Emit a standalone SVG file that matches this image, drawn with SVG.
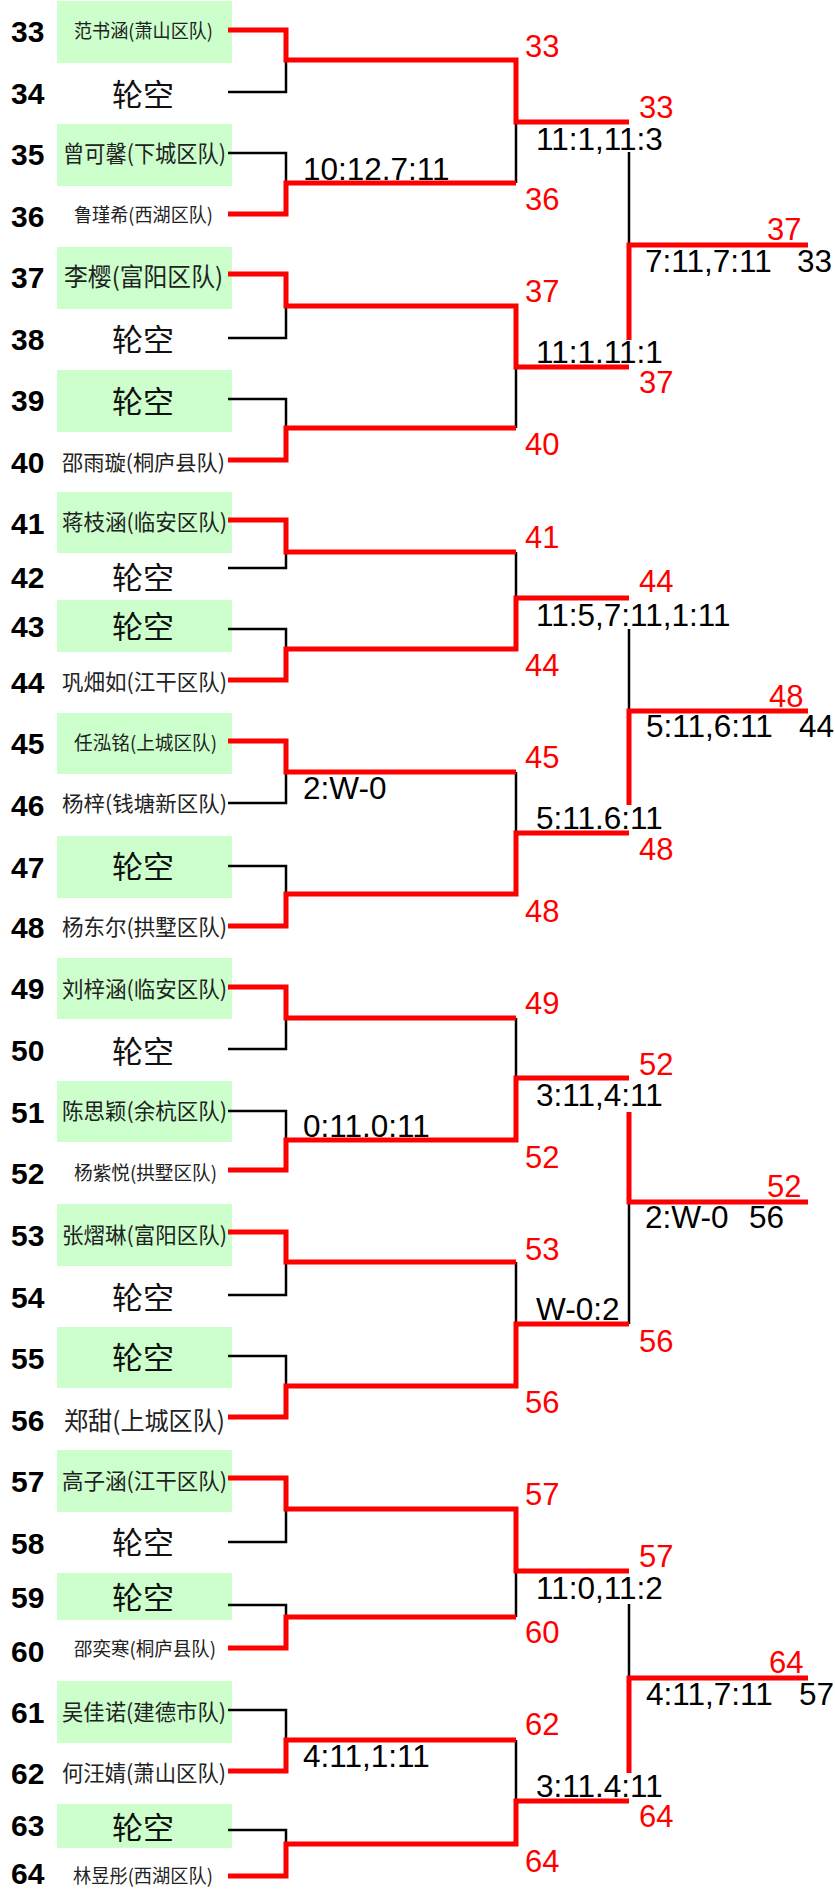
<svg xmlns="http://www.w3.org/2000/svg" width="835" height="1889" viewBox="0 0 835 1889">
<style>
.bg{fill:#fff}
.box{fill:#CCFFCC}
.num{font-family:"Liberation Sans",Arial,sans-serif;font-weight:bold;font-size:30px;fill:#000}
.nm{font-family:"Noto Sans CJK SC","Liberation Sans",sans-serif;fill:#222;text-anchor:middle}
.bye{font-family:"Noto Sans CJK SC","Liberation Sans",sans-serif;font-size:31px;fill:#111;text-anchor:middle}
.sc{font-family:"Liberation Sans",Arial,sans-serif;font-size:31.5px;fill:#000}
.rn{font-family:"Liberation Sans",Arial,sans-serif;font-size:31px;fill:#ff0000}
.bk{fill:none;stroke:#000;stroke-width:2.5}
.rd{fill:none;stroke:#ff0000;stroke-width:5;stroke-linejoin:miter}
</style>
<rect class="bg" x="0" y="0" width="835" height="1889"/>

<g id="boxes">
<rect class="box" x="57" y="1" width="175" height="62"/>
<rect class="box" x="57" y="124" width="175" height="62"/>
<rect class="box" x="57" y="247" width="175" height="62"/>
<rect class="box" x="57" y="370" width="175" height="62"/>
<rect class="box" x="57" y="492" width="175" height="61"/>
<rect class="box" x="57" y="600" width="175" height="52"/>
<rect class="box" x="57" y="713" width="175" height="61"/>
<rect class="box" x="57" y="836" width="175" height="62"/>
<rect class="box" x="57" y="958" width="175" height="61"/>
<rect class="box" x="57" y="1081" width="175" height="61"/>
<rect class="box" x="57" y="1204" width="175" height="62"/>
<rect class="box" x="57" y="1327" width="175" height="61"/>
<rect class="box" x="57" y="1450" width="175" height="62"/>
<rect class="box" x="57" y="1573" width="175" height="47"/>
<rect class="box" x="57" y="1681" width="175" height="62"/>
<rect class="box" x="57" y="1804" width="175" height="44"/>
</g>

<g id="connectors">
<path class="bk" d="M228,92 H286 V60"/>
<path class="bk" d="M228,153 H286 V183"/>
<path class="bk" d="M516,183 V122"/>
<path class="bk" d="M228,338 H286 V306"/>
<path class="bk" d="M228,399 H286 V428"/>
<path class="bk" d="M516,428 V367"/>
<path class="bk" d="M629,152 V245"/>

<path class="bk" d="M228,568 H286 V552"/>
<path class="bk" d="M516,552 V598"/>
<path class="bk" d="M228,629 H286 V649"/>
<path class="bk" d="M228,803 H286 V772"/>
<path class="bk" d="M516,772 V833"/>
<path class="bk" d="M228,866 H286 V894"/>
<path class="bk" d="M629,629 V711"/>

<path class="bk" d="M228,1049 H286 V1018"/>
<path class="bk" d="M516,1018 V1078"/>
<path class="bk" d="M228,1111 H286 V1140"/>
<path class="bk" d="M228,1295 H286 V1262"/>
<path class="bk" d="M516,1262 V1324"/>
<path class="bk" d="M228,1356 H286 V1386"/>
<path class="bk" d="M629,1202 V1324"/>

<path class="bk" d="M228,1542 H286 V1509"/>
<path class="bk" d="M228,1605 H286 V1617"/>
<path class="bk" d="M516,1617 V1571"/>
<path class="bk" d="M228,1710 H286 V1740"/>
<path class="bk" d="M516,1740 V1801"/>
<path class="bk" d="M228,1830 H286 V1844"/>
<path class="bk" d="M629,1604 V1678"/>

<path class="rd" d="M228,30 H286 V60 H516 V122 H629"/>
<path class="rd" d="M228,214 H286 V183 H516"/>
<path class="rd" d="M228,274 H286 V306 H516 V367 H629"/>
<path class="rd" d="M228,460 H286 V428 H516"/>
<path class="rd" d="M629,340 V245 H808"/>

<path class="rd" d="M228,520 H286 V552 H516"/>
<path class="rd" d="M228,680 H286 V649 H516 V598 H629"/>
<path class="rd" d="M228,741 H286 V772 H516"/>
<path class="rd" d="M228,926 H286 V894 H516 V833 H629"/>
<path class="rd" d="M629,805 V711 H808"/>

<path class="rd" d="M228,987 H286 V1018 H516"/>
<path class="rd" d="M228,1170 H286 V1140 H516 V1078 H629"/>
<path class="rd" d="M228,1232 H286 V1262 H516"/>
<path class="rd" d="M228,1417 H286 V1386 H516 V1324 H629"/>
<path class="rd" d="M629,1112 V1202 H808"/>

<path class="rd" d="M228,1478 H286 V1509 H516 V1571 H629"/>
<path class="rd" d="M228,1648 H286 V1617 H516"/>
<path class="rd" d="M228,1771 H286 V1740 H516"/>
<path class="rd" d="M228,1876 H286 V1844 H516 V1801 H629"/>
<path class="rd" d="M629,1773 V1678 H808"/>
</g>

<g id="seeds">
<text class="num" x="11" y="42">33</text>
<text class="num" x="11" y="104">34</text>
<text class="num" x="11" y="165">35</text>
<text class="num" x="11" y="227">36</text>
<text class="num" x="11" y="288">37</text>
<text class="num" x="11" y="350">38</text>
<text class="num" x="11" y="411">39</text>
<text class="num" x="11" y="473">40</text>
<text class="num" x="11" y="534">41</text>
<text class="num" x="11" y="588">42</text>
<text class="num" x="11" y="637">43</text>
<text class="num" x="11" y="693">44</text>
<text class="num" x="11" y="754">45</text>
<text class="num" x="11" y="816">46</text>
<text class="num" x="11" y="878">47</text>
<text class="num" x="11" y="938">48</text>
<text class="num" x="11" y="999">49</text>
<text class="num" x="11" y="1061">50</text>
<text class="num" x="11" y="1123">51</text>
<text class="num" x="11" y="1184">52</text>
<text class="num" x="11" y="1246">53</text>
<text class="num" x="11" y="1308">54</text>
<text class="num" x="11" y="1369">55</text>
<text class="num" x="11" y="1431">56</text>
<text class="num" x="11" y="1492">57</text>
<text class="num" x="11" y="1554">58</text>
<text class="num" x="11" y="1608">59</text>
<text class="num" x="11" y="1662">60</text>
<text class="num" x="11" y="1723">61</text>
<text class="num" x="11" y="1784">62</text>
<text class="num" x="11" y="1836">63</text>
<text class="num" x="11" y="1884">64</text>
</g>

<g id="players">
<text class="nm" x="143.5" y="38" font-size="19" textLength="139" lengthAdjust="spacingAndGlyphs">范书涵(萧山区队)</text>
<text class="bye" x="143" y="106">轮空</text>
<text class="nm" x="144.5" y="162" font-size="23" textLength="163" lengthAdjust="spacingAndGlyphs">曾可馨(下城区队)</text>
<text class="nm" x="143.5" y="222" font-size="19" textLength="139" lengthAdjust="spacingAndGlyphs">鲁瑾希(西湖区队)</text>
<text class="nm" x="143.5" y="286" font-size="25" textLength="159" lengthAdjust="spacingAndGlyphs">李樱(富阳区队)</text>
<text class="bye" x="143" y="351">轮空</text>
<text class="bye" x="143" y="413">轮空</text>
<text class="nm" x="143.5" y="470" font-size="21" textLength="163" lengthAdjust="spacingAndGlyphs">邵雨璇(桐庐县队)</text>
<text class="nm" x="144.5" y="530" font-size="22" textLength="165" lengthAdjust="spacingAndGlyphs">蒋枝涵(临安区队)</text>
<text class="bye" x="143" y="589">轮空</text>
<text class="bye" x="143" y="638">轮空</text>
<text class="nm" x="144.5" y="690" font-size="22" textLength="165" lengthAdjust="spacingAndGlyphs">巩畑如(江干区队)</text>
<text class="nm" x="145.5" y="750" font-size="19" textLength="143" lengthAdjust="spacingAndGlyphs">任泓铭(上城区队)</text>
<text class="nm" x="144.5" y="811" font-size="21" textLength="165" lengthAdjust="spacingAndGlyphs">杨梓(钱塘新区队)</text>
<text class="bye" x="143" y="878">轮空</text>
<text class="nm" x="144.5" y="935" font-size="22" textLength="165" lengthAdjust="spacingAndGlyphs">杨东尔(拱墅区队)</text>
<text class="nm" x="144.5" y="997" font-size="22" textLength="165" lengthAdjust="spacingAndGlyphs">刘梓涵(临安区队)</text>
<text class="bye" x="143" y="1063">轮空</text>
<text class="nm" x="144.5" y="1119" font-size="22" textLength="165" lengthAdjust="spacingAndGlyphs">陈思颖(余杭区队)</text>
<text class="nm" x="145.5" y="1180" font-size="19" textLength="143" lengthAdjust="spacingAndGlyphs">杨紫悦(拱墅区队)</text>
<text class="nm" x="144.5" y="1243" font-size="22" textLength="165" lengthAdjust="spacingAndGlyphs">张熠琳(富阳区队)</text>
<text class="bye" x="143" y="1309">轮空</text>
<text class="bye" x="143" y="1369">轮空</text>
<text class="nm" x="144.5" y="1430" font-size="25" textLength="161" lengthAdjust="spacingAndGlyphs">郑甜(上城区队)</text>
<text class="nm" x="144.5" y="1489" font-size="22" textLength="165" lengthAdjust="spacingAndGlyphs">高子涵(江干区队)</text>
<text class="bye" x="143" y="1554">轮空</text>
<text class="bye" x="143" y="1609">轮空</text>
<text class="nm" x="145" y="1656" font-size="19" textLength="142" lengthAdjust="spacingAndGlyphs">邵奕寒(桐庐县队)</text>
<text class="nm" x="144" y="1720" font-size="22" textLength="164" lengthAdjust="spacingAndGlyphs">吴佳诺(建德市队)</text>
<text class="nm" x="144" y="1781" font-size="22" textLength="164" lengthAdjust="spacingAndGlyphs">何汪婧(萧山区队)</text>
<text class="bye" x="143" y="1839">轮空</text>
<text class="nm" x="143" y="1883" font-size="19" textLength="140" lengthAdjust="spacingAndGlyphs">林昱彤(西湖区队)</text>
</g>

<g id="round2-labels">
<text class="rn" x="525" y="57">33</text>
<text class="rn" x="525" y="210">36</text>
<text class="rn" x="525" y="302">37</text>
<text class="rn" x="525" y="455">40</text>
<text class="rn" x="525" y="548">41</text>
<text class="rn" x="525" y="676">44</text>
<text class="rn" x="525" y="768">45</text>
<text class="rn" x="525" y="922">48</text>
<text class="rn" x="525" y="1014">49</text>
<text class="rn" x="525" y="1168">52</text>
<text class="rn" x="525" y="1260">53</text>
<text class="rn" x="525" y="1413">56</text>
<text class="rn" x="525" y="1505">57</text>
<text class="rn" x="525" y="1643">60</text>
<text class="rn" x="525" y="1735">62</text>
<text class="rn" x="525" y="1872">64</text>
</g>

<g id="round3-labels">
<text class="rn" x="639" y="118">33</text>
<text class="rn" x="639" y="393">37</text>
<text class="rn" x="639" y="592">44</text>
<text class="rn" x="639" y="860">48</text>
<text class="rn" x="639" y="1075">52</text>
<text class="rn" x="639" y="1352">56</text>
<text class="rn" x="639" y="1567">57</text>
<text class="rn" x="639" y="1827">64</text>
</g>

<g id="final-labels">
<text class="rn" x="767" y="240">37</text>
<text class="rn" x="769" y="707">48</text>
<text class="rn" x="767" y="1197">52</text>
<text class="rn" x="769" y="1673">64</text>
</g>

<g id="scores">
<text class="sc" x="303" y="180">10:12.7:11</text>
<text class="sc" x="303" y="799">2:W-0</text>
<text class="sc" x="303" y="1137">0:11.0:11</text>
<text class="sc" x="303" y="1767">4:11,1:11</text>
<text class="sc" x="536" y="150">11:1,11:3</text>
<text class="sc" x="536" y="363">11:1.11:1</text>
<text class="sc" x="536" y="626">11:5,7:11,1:11</text>
<text class="sc" x="536" y="829">5:11.6:11</text>
<text class="sc" x="536" y="1106">3:11,4:11</text>
<text class="sc" x="536" y="1320">W-0:2</text>
<text class="sc" x="536" y="1599">11:0,11:2</text>
<text class="sc" x="536" y="1797">3:11.4:11</text>
<text class="sc" x="645" y="272">7:11,7:11 <tspan x="797">33</tspan></text>
<text class="sc" x="646" y="737">5:11,6:11 <tspan x="799">44</tspan></text>
<text class="sc" x="645" y="1228">2:W-0 <tspan x="749">56</tspan></text>
<text class="sc" x="646" y="1705">4:11,7:11 <tspan x="799">57</tspan></text>
</g>
</svg>
